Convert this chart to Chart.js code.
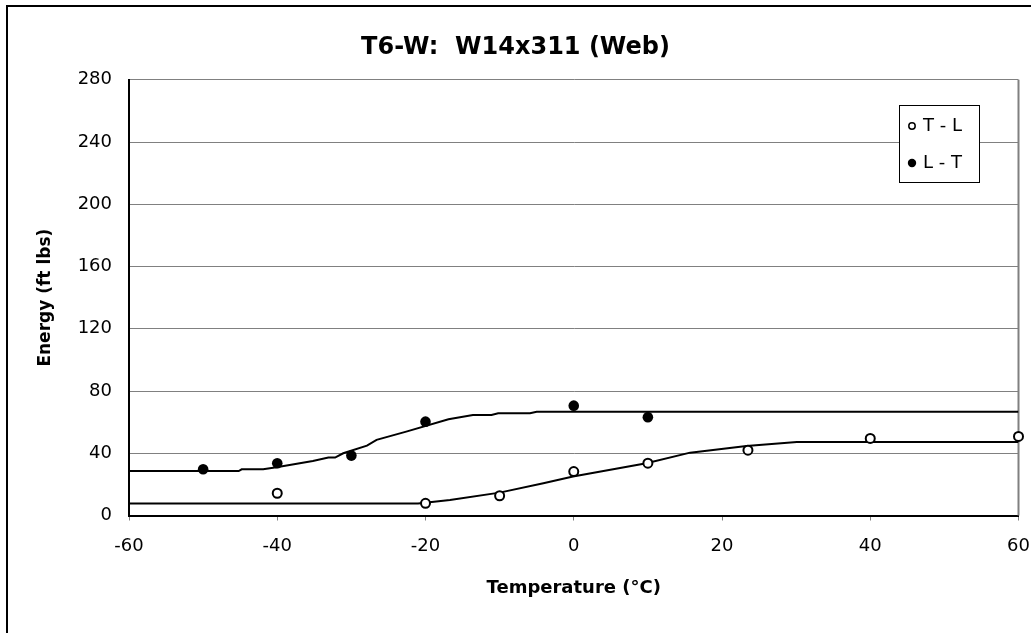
<!DOCTYPE html>
<html>
<head>
<meta charset="utf-8">
<script src="https://cdn.jsdelivr.net/npm/chart.js@4"></script>
<style>
  body { margin: 0; background: #fff; }
</style>
</head>
<body>
<canvas id="myChart" width="1031" height="633"></canvas>
<script>
// measured points
const nomsSeries = ['T - L', 'L - T'];
const tempTL = [-40, -20, -10, 0, 10, 23.5, 40, 60];
const energiaTL = [14.3, 7.8, 12.7, 28.2, 33.6, 42, 49.5, 50.8];
const tempLT = [-50, -40, -30, -20, 0, 10];
const energiaLT = [29.7, 33.6, 38.5, 60.3, 70.6, 63.2];

// fitted curves
const ajustTempTL = [-60, -21, -16.7, -10, -4.1, -0.1, 9.8, 15.7, 23.3, 30.1, 60];
const ajustEnergiaTL = [7.7, 7.7, 10, 14.7, 20.7, 25, 33.6, 40.4, 44.7, 47.3, 47.3];
const ajustTempLT = [-60, -45.2, -44.8, -41.9, -40.1, -35.2, -33.1, -32.2, -31.1, -27.9, -26.6, -22.6, -16.9, -13.6, -11.1, -10.2, -5.9, -5, 60];
const ajustEnergiaLT = [28.6, 28.6, 29.7, 29.7, 31, 35, 37.2, 37.2, 40, 44.9, 48.6, 53.9, 61.9, 64.6, 64.6, 65.7, 65.7, 66.7, 66.7];

const ticksX = [-60, -40, -20, 0, 20, 40, 60];
const ticksY = [0, 40, 80, 120, 160, 200, 240, 280];

function parells(xs, ys) {
  return xs.map((x, i) => ({x: x, y: ys[i]}));
}

Chart.defaults.font.family = 'DejaVu Sans';
Chart.defaults.color = '#000';

const marc = {
  id: 'marc',
  beforeDraw(chart) {
    const c = chart.ctx;
    c.save();
    c.fillStyle = '#fff';
    c.fillRect(0, 0, chart.width, chart.height);
    c.strokeStyle = '#000';
    c.lineWidth = 2;
    c.strokeRect(7, 6, chart.width + 20, chart.height + 20);
    c.restore();
  },
  beforeDatasetsDraw(chart) {
    const a = chart.chartArea;
    const c = chart.ctx;
    c.save();
    c.strokeStyle = '#808080';
    c.lineWidth = 2;
    c.beginPath();
    c.moveTo(a.right, a.top);
    c.lineTo(a.right, a.bottom);
    c.stroke();
    c.restore();
  },
  afterDraw(chart) {
    const c = chart.ctx;
    c.save();
    c.fillStyle = '#fff';
    c.strokeStyle = '#000';
    c.lineWidth = 1;
    c.fillRect(899.5, 105.5, 80, 77);
    c.strokeRect(899.5, 105.5, 80, 77);
    c.font = '18px "DejaVu Sans"';
    c.textBaseline = 'middle';
    c.fillStyle = '#000';
    // T - L: open marker
    c.beginPath();
    c.arc(912, 126, 3.2, 0, Math.PI * 2);
    c.lineWidth = 1.5;
    c.stroke();
    c.fillText(nomsSeries[0], 923, 126);
    // L - T: filled marker
    c.beginPath();
    c.arc(912, 163, 4.2, 0, Math.PI * 2);
    c.fill();
    c.fillText(nomsSeries[1], 923, 163);
    c.restore();
  }
};

const ctx = document.getElementById('myChart').getContext('2d');
const myChart = new Chart(ctx, {
  type: 'scatter',
  data: {
    datasets: [
      {
        label: nomsSeries[0],
        data: parells(tempTL, energiaTL),
        pointRadius: 4.5,
        pointBorderWidth: 2,
        pointBorderColor: '#000',
        pointBackgroundColor: '#fff',
        showLine: false,
        clip: false,
        order: 0
      },
      {
        label: nomsSeries[1],
        data: parells(tempLT, energiaLT),
        pointRadius: 5.3,
        pointBorderWidth: 0,
        pointBackgroundColor: '#000',
        showLine: false,
        clip: false,
        order: 0
      },
      {
        label: 'ajust TL',
        data: parells(ajustTempTL, ajustEnergiaTL),
        showLine: true,
        pointRadius: 0,
        borderColor: '#000',
        borderWidth: 2,
        order: 1
      },
      {
        label: 'ajust LT',
        data: parells(ajustTempLT, ajustEnergiaLT),
        showLine: true,
        pointRadius: 0,
        borderColor: '#000',
        borderWidth: 2,
        order: 1
      }
    ]
  },
  options: {
    responsive: false,
    animation: false,
    layout: { padding: 0 },
    plugins: {
      legend: { display: false },
      tooltip: { enabled: false },
      title: {
        display: true,
        text: 'T6-W:  W14x311 (Web)',
        color: '#000',
        font: { size: 24, weight: 'bold' },
        padding: { top: 33, bottom: 18 }
      }
    },
    scales: {
      x: {
        type: 'linear',
        min: -60,
        max: 60,
        afterBuildTicks: (s) => { s.ticks = ticksX.map(v => ({value: v})); },
        afterFit: (s) => { s.height = 117.5; s.paddingLeft = 0; s.paddingRight = 12.5; },
        grid: { drawOnChartArea: false, drawTicks: true, tickLength: 5, color: '#808080' },
        border: { color: '#000', width: 2 },
        ticks: { font: { size: 18 }, padding: 15, maxRotation: 0 },
        title: {
          display: true,
          text: 'Temperature (°C)',
          font: { size: 18, weight: 'bold' },
          padding: { bottom: 34 }
        }
      },
      y: {
        min: 0,
        max: 280,
        afterBuildTicks: (s) => { s.ticks = ticksY.map(v => ({value: v})); },
        afterFit: (s) => { s.width = 129; },
        grid: { color: '#808080', lineWidth: 1, drawTicks: false },
        border: { color: '#000', width: 2 },
        ticks: { font: { size: 18 }, padding: 17 },
        title: {
          display: true,
          text: 'Energy (ft lbs)',
          font: { size: 17, weight: 'bold' },
          padding: { top: 35 }
        }
      }
    }
  },
  plugins: [marc]
});
</script>
</body>
</html>
